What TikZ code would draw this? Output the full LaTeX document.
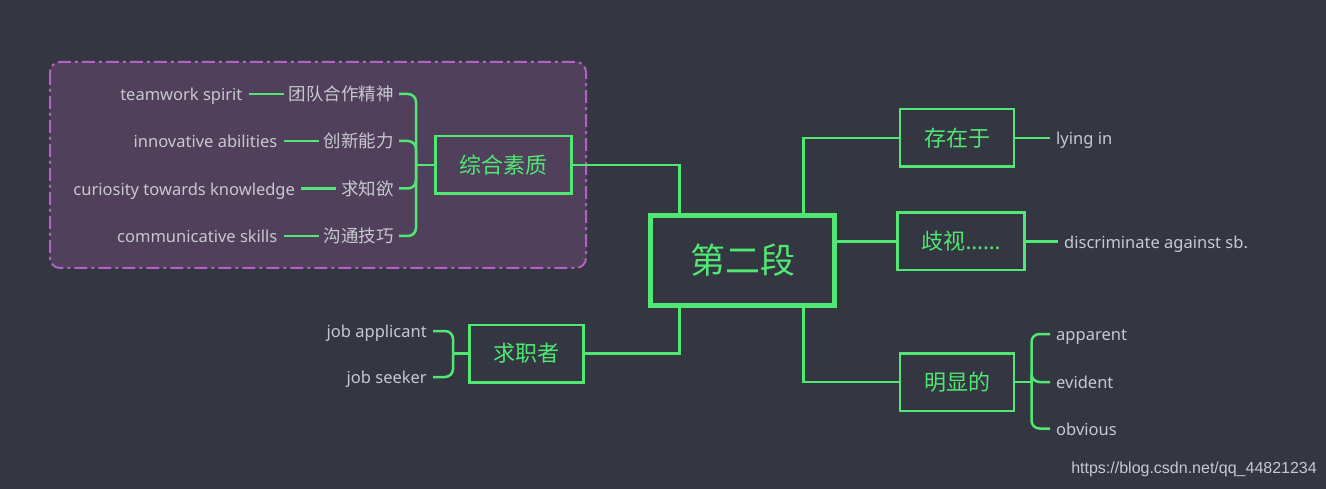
\documentclass[tikz,border=0pt]{standalone}
\usepackage{fontspec}
\setmainfont{Noto Sans}
\newfontfamily\cjk{Noto Sans CJK SC}
\newfontfamily\wmfont{Liberation Sans}
\usetikzlibrary{positioning}
\definecolor{bg}{RGB}{52,54,66}
\definecolor{grn}{RGB}{80,232,115}
\definecolor{grpfill}{RGB}{80,64,92}
\definecolor{grpline}{RGB}{178,98,196}
\definecolor{txt}{RGB}{200,200,208}

\begin{document}
\begin{tikzpicture}[x=1pt,y=-1pt]
        \tikzset{
        main/.style={draw=grn, line width=5pt, minimum width=184pt, minimum height=90pt,
        inner sep=0pt, text=grn, text height=26.6pt, text depth=0pt, font=\cjk\fontsize{35}{40}\selectfont},
        sub/.style={draw=grn, line width=2.5pt, minimum height=57.5pt, inner xsep=24pt,
        text=grn, text height=16.8pt, text depth=0pt, font=\cjk\fontsize{22}{26}\selectfont},
        cn/.style={text=txt, inner xsep=5pt, inner ysep=0pt, text height=13.5pt, text depth=0pt,
        font=\cjk\fontsize{17.5}{20}\selectfont},
        en/.style={text=txt, inner xsep=6pt, inner ysep=0pt, text height=13.5pt, text depth=0pt,
        font=\fontsize{16.5}{20}\selectfont},
        grp/.style={fill=grpfill, draw=grpline, line width=2pt, rounded corners=10pt,
        dash pattern=on 13pt off 4pt on 3pt off 4pt},
        wm/.style={text=txt, inner sep=0pt, font=\wmfont\fontsize{16}{19}\selectfont},
        c1/.style={draw=grn, line width=2.5pt},
        c2/.style={c1, rounded corners=8pt},
        }
        \fill[bg] (0,0) rectangle (1326,489);
        \draw[grp] (50,62) rectangle (586,268);

        \node[main] (n0) at (742.5,260.5) {第二段};
        \node[sub] (n1) at (503.5,165) {综合素质};
        \node[sub] (n2) at (526.5,353.5) {求职者};
        \node[sub] (n3) at (957,138) {存在于};
        \node[sub] (n4) at (961,241.5) {歧视{\normalfont ……}};
        \node[sub] (n5) at (957,382) {明显的};

        % left group
        \node[cn, anchor=east] (t1) at (399,94) {团队合作精神};
        \node[cn, anchor=east] (t2) at (399,141) {创新能力};
        \node[cn, anchor=east] (t3) at (399,188.5) {求知欲};
        \node[cn, anchor=east] (t4) at (399,236) {沟通技巧};
        \node[en, left=35pt of t1] (e1) {teamwork spirit};
        \node[en, left=35pt of t2] (e2) {innovative abilities};
        \node[en, left=35pt of t3] (e3) {curiosity towards knowledge};
        \node[en, left=35pt of t4] (e4) {communicative skills};
        \coordinate (k1) at (416,165);
        \draw[c1] (n1) -- (k1);
        \foreach \i in {1,...,4} {
          \draw[c2] (k1) |- (t\i);
          \draw[c1] (e\i) -- (t\i);
        }

        \node[en, anchor=east] (j1) at (433,331) {job applicant};
        \node[en, anchor=east] (j2) at (433,377) {job seeker};
        \coordinate (k2) at (453,353.5);
        \draw[c1] (n2) -- (k2);
        \draw[c2] (k2) |- (j1);
        \draw[c2] (k2) |- (j2);

        % right side
        \node[en, anchor=west] (w1) at (1050,138) {lying in};
        \node[en, anchor=west] (w2) at (1058,241.5) {discriminate against sb.};
        \draw[c1] (n3) -- (w1);
        \draw[c1] (n4) -- (w2);
        \node[en, anchor=west] (a1) at (1050,334) {apparent};
        \node[en, anchor=west] (a2) at (1050,382) {evident};
        \node[en, anchor=west] (a3) at (1050,428.5) {obvious};
        \coordinate (k3) at (1031.5,382);
        \draw[c1] (n5) -- (k3);
        \foreach \i in {1,2,3} \draw[c2] (k3) |- (a\i);

        % from the centre
        \draw[c1] ([xshift=-63pt]n0.north) |- (n1);
        \draw[c1] ([xshift=61pt]n0.north) |- (n3);
        \draw[c1] (n0.east |- n4) -- (n4);
        \draw[c1] ([xshift=-63pt]n0.south) |- (n2);
        \draw[c1] ([xshift=61pt]n0.south) |- (n5);

        \node[wm, anchor=east] (u) at (1317,469) {https://blog.csdn.net/qq\_44821234};
\end{tikzpicture}
\end{document}
